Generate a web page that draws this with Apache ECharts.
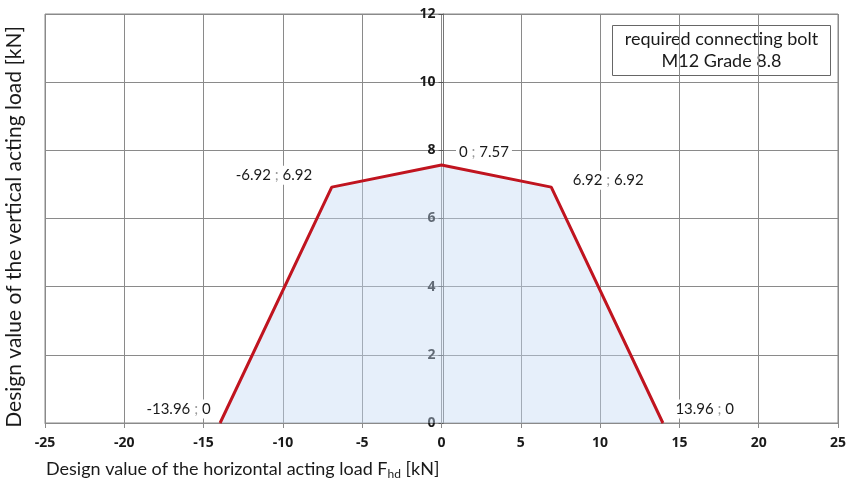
<!DOCTYPE html>
<html>
<head>
<meta charset="utf-8">
<script src="https://cdn.jsdelivr.net/npm/echarts@6/dist/echarts.min.js"></script>
<style>
  html, body { margin: 0; padding: 0; background: #fff; }
  #chart { width: 849px; height: 489px; }
</style>
</head>
<body>
<div id="chart"></div>
<script>
// load limit curve points
var xVals = [-13.96, -6.92, 0, 6.92, 13.96];
var yVals = [0, 6.92, 7.57, 6.92, 0];
var pointLabels = ['-13.96 ; 0', '-6.92 ; 6.92', '0 ; 7.57', '6.92 ; 6.92', '13.96 ; 0'];
var xTicks = [-25, -20, -15, -10, -5, 0, 5, 10, 15, 20, 25];
var yTicks = [0, 2, 4, 6, 8, 10, 12];

// where each label sits next to its point
var labelPlace = [
  {position: 'left', distance: 6, offset: [0, -14]},
  {position: 'left', distance: 16, offset: [0, -12]},
  {position: 'right', distance: 14, offset: [0, -13]},
  {position: 'right', distance: 18, offset: [0, -7]},
  {position: 'right', distance: 9, offset: [0, -14]}
];

var seriesData = xVals.map(function (x, i) {
  return {
    value: [x, yVals[i]],
    label: {
      show: true,
      formatter: pointLabels[i].replace(' ; ', ' {sep|;} '),
      position: labelPlace[i].position,
      distance: labelPlace[i].distance,
      offset: labelPlace[i].offset
    }
  };
});

var gridLeft = 45, gridRight = 7;
var plotW = 849 - gridLeft - gridRight;

var chart = echarts.init(document.getElementById('chart'));

var option = {
  animation: false,
  backgroundColor: '#fff',
  grid: {left: gridLeft, right: gridRight, top: 14, bottom: 66, show: true, borderColor: '#8a8a8a', borderWidth: 1},
  title: [{
    text: 'Design value of the horizontal acting load F{sub|hd} [kN]',
    left: 41,
    top: 454,
    textStyle: {
      fontFamily: 'Lato', fontSize: 18, fontWeight: 'normal', color: '#1a1a1a',
      rich: {sub: {fontFamily: 'Lato', fontSize: 12, color: '#1a1a1a', verticalAlign: 'bottom', padding: [9, 0, 0, 0]}}
    }
  }],
  xAxis: {
    type: 'value',
    min: xTicks[0],
    max: xTicks[xTicks.length - 1],
    interval: 5,
    axisLine: {show: true, onZero: false, lineStyle: {color: '#8a8a8a'}},
    axisTick: {show: true, length: 5, lineStyle: {color: '#8a8a8a'}},
    axisLabel: {margin: 13, fontFamily: 'Open Sans', fontWeight: 'bold', fontSize: 14, color: '#1a1a1a'},
    splitLine: {show: true, lineStyle: {color: '#8a8a8a', width: 1}}
  },
  yAxis: {
    type: 'value',
    min: yTicks[0],
    max: yTicks[yTicks.length - 1],
    interval: 2,
    position: 'left',
    offset: -plotW / 2,
    axisLine: {show: true, onZero: false, lineStyle: {color: '#777'}},
    axisTick: {show: true, length: 5, lineStyle: {color: '#555'}},
    axisLabel: {margin: 8, fontFamily: 'Open Sans', fontWeight: 'bold', fontSize: 14, color: '#1a1a1a'},
    splitLine: {show: true, lineStyle: {color: '#8a8a8a', width: 1}}
  },
  series: [{
    type: 'line',
    data: seriesData,
    symbol: 'circle',
    symbolSize: 1,
    showSymbol: true,
    itemStyle: {color: '#c0141f'},
    lineStyle: {color: '#c0141f', width: 3},
    areaStyle: {color: '#c4d8f2', opacity: 0.42},
    label: {
      fontFamily: 'Lato', fontSize: 15, color: '#1a1a1a',
      backgroundColor: '#fff', padding: [2, 3],
      rich: {sep: {fontFamily: 'Lato', fontSize: 15, color: '#999'}}
    },
    z: 3
  }],
  graphic: [
    {
      type: 'text',
      left: 4,
      top: 26,
      rotation: Math.PI / 2,
      style: {
        text: 'Design value of the vertical acting load [kN]',
        fontFamily: 'Lato', fontSize: 21, fill: '#1a1a1a'
      }
    },
    {
      type: 'group',
      right: 18,
      top: 25,
      children: [
        {type: 'rect', shape: {x: 0, y: 0, width: 218, height: 50},
          style: {fill: '#fff', stroke: '#666', lineWidth: 1}},
        {type: 'text', x: 109, y: 25,
          style: {text: 'required connecting bolt\nM12 Grade 8.8', align: 'center', verticalAlign: 'middle',
            fontFamily: 'Lato', fontSize: 18, lineHeight: 22, fill: '#1a1a1a'}}
      ]
    }
  ]
};

chart.setOption(option);
</script>
</body>
</html>
